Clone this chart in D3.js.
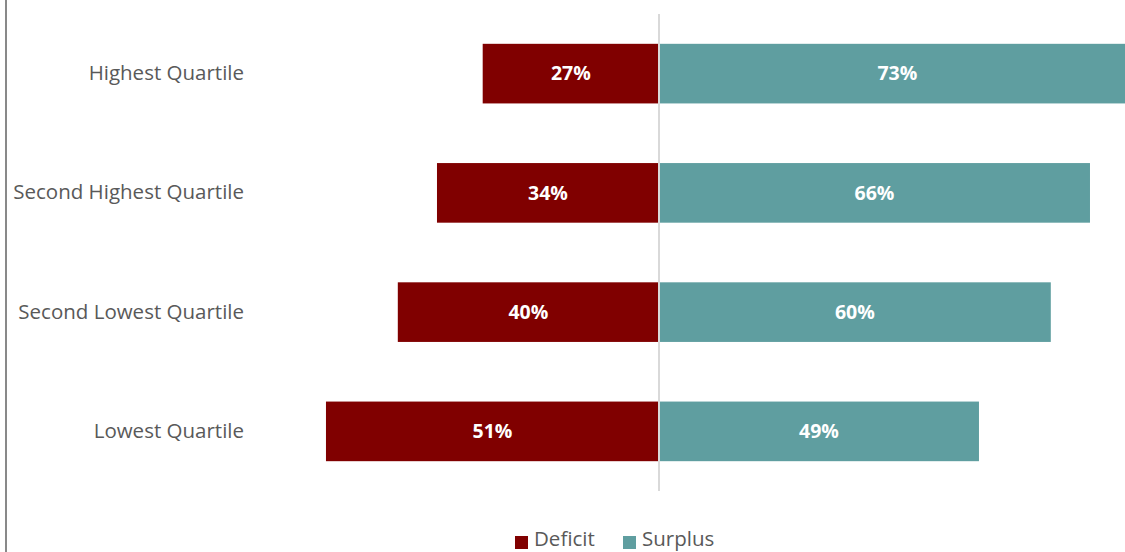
<!DOCTYPE html>
<html>
<head>
<meta charset="utf-8">
<script src="https://cdn.jsdelivr.net/npm/d3@7"></script>
<style>
  body { margin: 0; background: #fff; }
  svg { display: block; font-family: "Open Sans", sans-serif; }
</style>
</head>
<body>
<svg id="chart"></svg>
<script>
// data
const categories = ['Highest Quartile', 'Second Highest Quartile', 'Second Lowest Quartile', 'Lowest Quartile'];
const deficit = [27, 34, 40, 51];
const surplus = [73, 66, 60, 49];
const seriesNames = ['Deficit', 'Surplus'];
const colors = ['#800000', '#5f9ea0'];

const W = 1125, H = 552;
const center = 659, pxPerPct = 6.53;

const svg = d3.select('#chart').attr('width', W).attr('height', H);

// left frame line
svg.append('line')
    .attr('x1', 6).attr('x2', 6).attr('y1', 0).attr('y2', H)
    .attr('stroke', '#898989').attr('stroke-width', 2);

const x = d3.scaleLinear()
    .domain([-100, 100])
    .range([center - 100 * pxPerPct, center + 100 * pxPerPct]);

const y = d3.scaleBand()
    .domain(categories)
    .range([14, 491])
    .paddingInner(0.5)
    .paddingOuter(0.25);

const rows = categories.map((c, i) => ({ cat: c, def: deficit[i], sur: surplus[i] }));

// deficit bars (left)
svg.selectAll('.def')
    .data(rows)
    .enter()
    .append('rect')
    .attr('class', 'def')
    .attr('x', d => x(-d.def))
    .attr('y', d => y(d.cat))
    .attr('width', d => x(0) - x(-d.def))
    .attr('height', y.bandwidth())
    .attr('fill', colors[0]);

// surplus bars (right)
svg.selectAll('.sur')
    .data(rows)
    .enter()
    .append('rect')
    .attr('class', 'sur')
    .attr('x', x(0))
    .attr('y', d => y(d.cat))
    .attr('width', d => x(d.sur) - x(0))
    .attr('height', y.bandwidth())
    .attr('fill', colors[1]);

// center axis line
svg.append('line')
    .attr('x1', x(0)).attr('x2', x(0))
    .attr('y1', 14).attr('y2', 491)
    .attr('stroke', '#d9d9d9').attr('stroke-width', 2);

// value labels
svg.selectAll('.defLbl')
    .data(rows)
    .enter()
    .append('text')
    .attr('x', d => (x(-d.def) + x(0)) / 2)
    .attr('y', d => y(d.cat) + y.bandwidth() / 2)
    .attr('dy', '0.35em')
    .attr('text-anchor', 'middle')
    .attr('fill', '#fff')
    .attr('font-weight', 'bold')
    .attr('font-size', 19.5)
    .text(d => d.def + '%');

svg.selectAll('.surLbl')
    .data(rows)
    .enter()
    .append('text')
    .attr('x', d => (x(d.sur) + x(0)) / 2)
    .attr('y', d => y(d.cat) + y.bandwidth() / 2)
    .attr('dy', '0.35em')
    .attr('text-anchor', 'middle')
    .attr('fill', '#fff')
    .attr('font-weight', 'bold')
    .attr('font-size', 19.5)
    .text(d => d.sur + '%');

// category axis
const yAxisG = svg.append('g')
    .attr('transform', 'translate(250,0)')
    .call(d3.axisLeft(y).tickSize(0).tickPadding(6));
yAxisG.select('.domain').remove();
yAxisG.selectAll('text')
    .attr('font-family', '"Open Sans", sans-serif')
    .attr('font-size', 20.5)
    .attr('fill', '#595959');

// legend
const legend = svg.append('g').attr('transform', 'translate(515,530)');
const legX = [0, 108];
seriesNames.forEach((name, i) => {
    const g = legend.append('g').attr('transform', `translate(${legX[i]},0)`);
    g.append('rect').attr('x', 0).attr('y', 6).attr('width', 13).attr('height', 13).attr('fill', colors[i]);
    g.append('text')
        .attr('x', 19).attr('y', 16)
        .attr('font-size', 20.5)
        .attr('fill', '#595959')
        .text(name);
});
</script>
</body>
</html>
